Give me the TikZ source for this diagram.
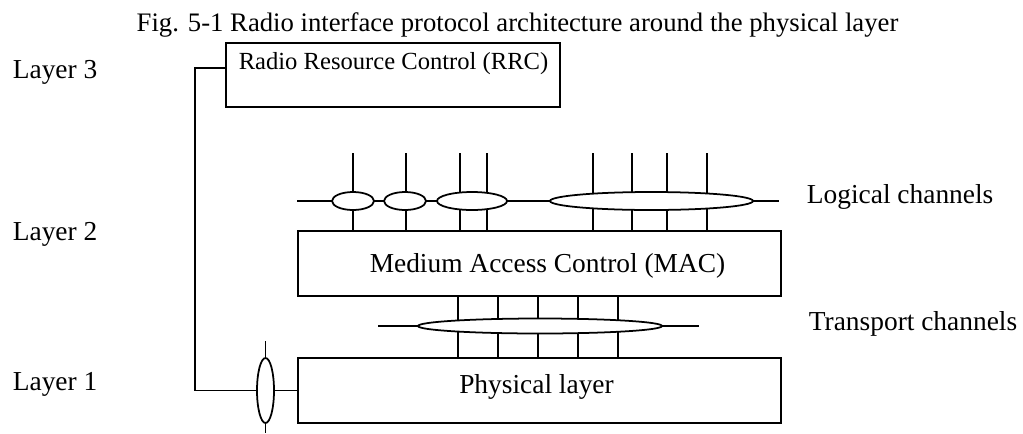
\documentclass[tikz,border=0pt]{standalone}
\usepackage{fontspec}
\setmainfont{Liberation Serif}
\usetikzlibrary{shapes.geometric}

\tikzset{
  layerbox/.style={draw, line width=1pt, inner sep=0pt},
  chan/.style={draw, ellipse, line width=1pt, fill=white, inner sep=0pt},
  txt/.style={anchor=base, inner sep=0pt, font=\fontsize{15.6}{18}\selectfont},
}

\begin{document}
\begin{tikzpicture}[x=0.02cm, y=-0.02cm, line width=1pt]
    \useasboundingbox (0,0) rectangle (1023,433);

    % Title
    \node[txt, font=\fontsize{15.2}{18}\selectfont] (title) at (517.5,31) {Fig. 5-1 Radio interface protocol architecture around the physical layer};

    % Layer labels
    \node[txt, anchor=base west] (layer3) at (12,78) {Layer 3};
    \node[txt, anchor=base west] (layer2) at (12,240) {Layer 2};
    \node[txt, anchor=base west] (layer1) at (12,390) {Layer 1};

    % RRC box
    \node[layerbox, minimum width=6.68cm, minimum height=1.28cm] (rrc) at (393,75) {};
    \node[txt, font=\fontsize{14}{16}\selectfont] (rrctext) at (393.5,69) {Radio Resource Control (RRC)};

    % MAC box
    \node[layerbox, minimum width=9.66cm, minimum height=1.3cm] (mac) at (539.5,263.5) {};
    \node[txt] (mactext) at (547.5,272) {Medium Access Control (MAC)};

    % Physical layer box
    \node[layerbox, minimum width=9.66cm, minimum height=1.3cm] (phy) at (539.5,390.5) {};
    \node[txt] (phytext) at (536.5,393) {Physical layer};

    % Control line from RRC down to the physical layer
    \coordinate (bend) at (195,68);
    \draw (rrc.west |- bend) -- (bend) -- (bend |- phy.west) -- (phy.west);
    \coordinate (ctltop) at (265.5,341);
    \coordinate (ctlbot) at (265.5,433);
    \draw (ctltop) -- (ctlbot);
    \node[chan, minimum width=0.34cm, minimum height=1.3cm] (ctl) at (265.5,390.5) {};

    % Logical channels
    \coordinate (lstart) at (297,201);
    \coordinate (lend) at (779,201);
    \draw (lstart) -- (lend);
    \foreach \x [count=\i] in {353,406,460,487,593,632,667,707} {
        \coordinate (lt\i) at (\x,153);
        \draw (lt\i) -- (lt\i |- mac.north);
    }
    \node[chan, minimum width=0.84cm, minimum height=0.36cm] (lc1) at (353,201) {};
    \node[chan, minimum width=0.84cm, minimum height=0.36cm] (lc2) at (405,201) {};
    \node[chan, minimum width=1.4cm, minimum height=0.36cm] (lc3) at (472,201) {};
    \node[chan, minimum width=4.06cm, minimum height=0.36cm] (lc4) at (651.5,201) {};
    \node[txt, anchor=base west] (logtext) at (806,203) {Logical channels};

    % Transport channels
    \coordinate (tstart) at (378,326);
    \coordinate (tend) at (699,326);
    \draw (tstart) -- (tend);
    \foreach \x [count=\i] in {458,498,538,578,618} {
        \coordinate (tc\i) at (\x,326);
        \draw (tc\i |- mac.south) -- (tc\i |- phy.north);
    }
    \node[chan, minimum width=4.88cm, minimum height=0.3cm] (tc) at (540,326) {};
    \node[txt, anchor=base west] (trtext) at (808,330) {Transport channels};
\end{tikzpicture}
\end{document}
